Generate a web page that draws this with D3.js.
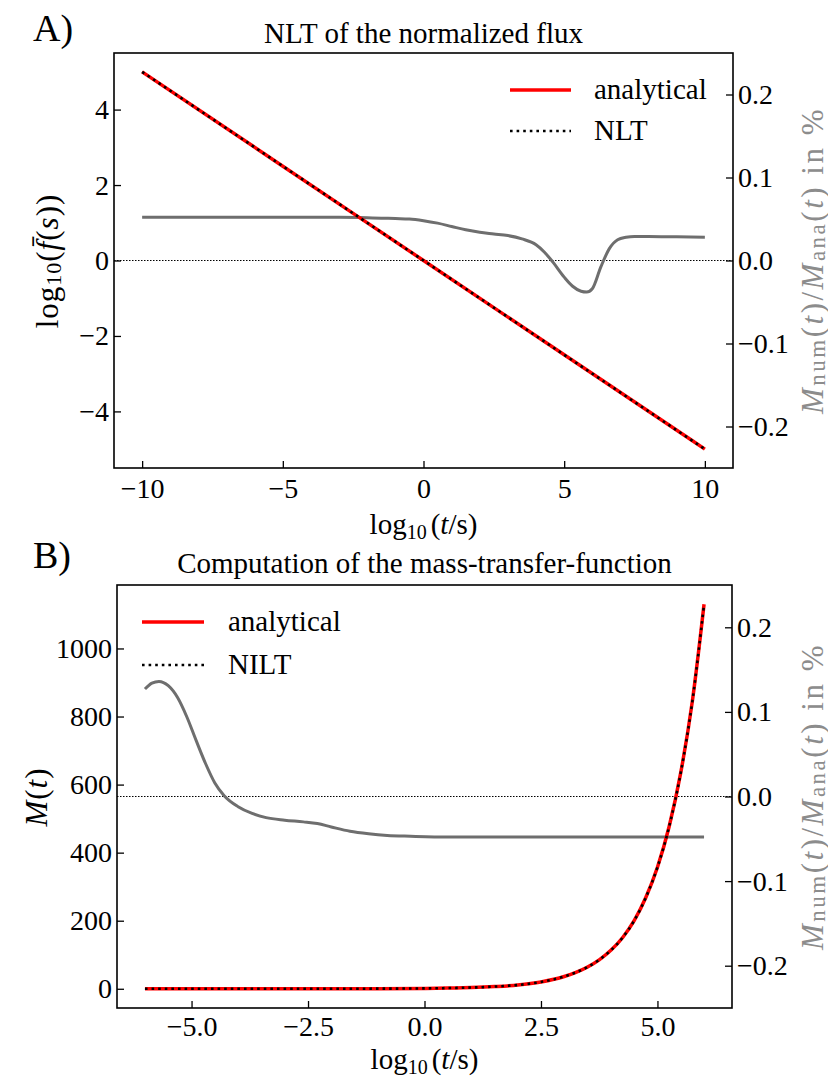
<!DOCTYPE html>
<html><head><meta charset="utf-8">
<script src="https://cdn.jsdelivr.net/npm/d3@7"></script>
<style>body{margin:0;background:#fff}svg text{font-family:"Liberation Serif","Times New Roman",serif;}</style>
</head><body>
<svg id="c" width="828" height="1078"></svg>
<script>
// ---------- Panel A data ----------
const xTicksA = [-10, -5, 0, 5, 10];
const yTicksA = [-4, -2, 0, 2, 4];
const rightTicks = [-0.2, -0.1, 0.0, 0.1, 0.2];
const fluxX = [-10, -5, 0, 5, 10];
const fluxY = [5, 2.5, 0, -2.5, -5];
const residAX = [-10,-8,-6,-4,-3,-2,-1.5,-1,-0.5,0,0.5,1,1.5,2,2.5,3,3.5,4,4.3,4.6,5,5.3,5.6,5.8,6,6.3,6.6,6.9,7.2,7.5,8,9,10];
const residAY = [0.052,0.052,0.052,0.052,0.052,0.0515,0.051,0.0505,0.05,0.048,0.045,0.041,0.037,0.034,0.032,0.030,0.026,0.019,0.010,-0.002,-0.020,-0.031,-0.037,-0.038,-0.034,-0.008,0.014,0.025,0.028,0.029,0.029,0.0285,0.028];

// ---------- Panel B data ----------
const xTicksB = [-5, -2.5, 0, 2.5, 5];
const yTicksB = [0, 200, 400, 600, 800, 1000];
const massX = [-6,-5,-4,-3,-2,-1,0,0.5,1,1.5,2,2.5,3,3.25,3.5,3.75,4,4.25,4.5,4.75,5,5.25,5.5,5.75,6];
const massY = [0.001,0.004,0.011,0.036,0.11,0.36,1.1,2.0,3.6,6.4,11,20,36,48,64,85,113,150,200,268,357,476,635,846,1130];
const residBX = [-6,-5.85,-5.7,-5.5,-5.3,-5.1,-4.9,-4.7,-4.5,-4.3,-4.0,-3.7,-3.4,-3.0,-2.6,-2.3,-2.0,-1.6,-1.2,-0.8,-0.3,0.5,2,4,6];
const residBY = [0.127,0.134,0.136,0.131,0.117,0.094,0.066,0.039,0.016,0.001,-0.012,-0.020,-0.025,-0.028,-0.030,-0.032,-0.036,-0.041,-0.044,-0.046,-0.047,-0.048,-0.048,-0.048,-0.048];

const svg = d3.select("#c");
const FS = 29;
const TFS = 28;
const GRAY = "#6e6e6e";
const LABELGRAY = "#8c8c8c";

function panel(o) {
  const g = svg.append("g");
  const x = d3.scaleLinear().domain(o.xDom).range([o.x0, o.x1]);
  const y = d3.scaleLinear().domain(o.yDom).range([o.y1, o.y0]);
  const yr = d3.scaleLinear().domain([-0.25, 0.25]).range([o.y1, o.y0]);

  // zero dotted line (right axis)
  g.append("line").attr("x1", o.x0).attr("x2", o.x1)
    .attr("y1", yr(0)).attr("y2", yr(0))
    .attr("stroke", "#000").attr("stroke-width", 1.2).attr("stroke-dasharray", "1.5,1.5");

  // residual
  const lr = d3.line().x((d, i) => x(o.rX[i])).y(d => yr(d)).curve(d3.curveMonotoneX);
  g.append("path").attr("d", lr(o.rY)).attr("fill", "none")
    .attr("stroke", GRAY).attr("stroke-width", 3);

  // analytical and numerical
  const lm = d3.line().x((d, i) => x(o.mX[i])).y(d => y(d)).curve(d3.curveMonotoneX);
  g.append("path").attr("d", lm(o.mY)).attr("fill", "none")
    .attr("stroke", "#ff0000").attr("stroke-width", 3.5);
  g.append("path").attr("d", lm(o.mY)).attr("fill", "none")
    .attr("stroke", "#000").attr("stroke-width", 2.6).attr("stroke-dasharray", "2.6,4");

  // axes
  const ax = g.append("g").attr("transform", `translate(0,${o.y1})`)
    .call(d3.axisBottom(x).tickValues(o.xTicks).tickFormat(o.xFmt).tickSize(-7).tickPadding(o.xPad));
  const ay = g.append("g").attr("transform", `translate(${o.x0},0)`)
    .call(d3.axisLeft(y).tickValues(o.yTicks).tickFormat(d3.format("d")).tickSize(-7).tickPadding(5));
  const ar = g.append("g").attr("transform", `translate(${o.x1},0)`)
    .call(d3.axisRight(yr).tickValues(rightTicks).tickFormat(d3.format(".1f")).tickSize(-7).tickPadding(5));
  [ax, ay, ar].forEach(a => {
    a.select(".domain").remove();
    a.selectAll(".tick line").attr("stroke", "#000").attr("stroke-width", 1.3);
    a.selectAll(".tick text").attr("font-size", TFS).attr("fill", "#000")
      .style("font-family", '"Liberation Serif", serif');
  });

  // frame
  g.append("rect").attr("x", o.x0).attr("y", o.y0)
    .attr("width", o.x1 - o.x0).attr("height", o.y1 - o.y0)
    .attr("fill", "none").attr("stroke", "#000").attr("stroke-width", 1.6);

  // legend
  const L = o.leg;
  g.append("line").attr("x1", L.lx0).attr("x2", L.lx1).attr("y1", L.y1).attr("y2", L.y1)
    .attr("stroke", "#ff0000").attr("stroke-width", 3.5);
  g.append("line").attr("x1", L.lx0).attr("x2", L.lx1).attr("y1", L.y2).attr("y2", L.y2)
    .attr("stroke", "#000").attr("stroke-width", 2.6).attr("stroke-dasharray", "2.6,4");
  g.append("text").attr("x", L.tx).attr("y", L.y1 + 9).attr("font-size", FS).text("analytical");
  g.append("text").attr("x", L.tx).attr("y", L.y2 + 9).attr("font-size", FS).text(L.num);

  // title & panel letter
  g.append("text").attr("x", (o.x0 + o.x1) / 2).attr("y", o.titleY)
    .attr("text-anchor", "middle").attr("font-size", FS).text(o.title);
  g.append("text").attr("x", 33).attr("y", o.letterY)
    .attr("font-size", 38).text(o.letter);

  // x label
  const xl = g.append("text").attr("x", (o.x0 + o.x1) / 2).attr("y", o.xlabY)
    .attr("text-anchor", "middle").attr("font-size", FS);
  xl.append("tspan").text("log");
  xl.append("tspan").attr("font-size", 20).attr("dy", 5).text("10");
  xl.append("tspan").attr("dy", -5).attr("dx", 4).text("(");
  xl.append("tspan").attr("font-style", "italic").text("t");
  xl.append("tspan").text("/s)");

  // right label
  const rl = g.append("text")
    .attr("transform", `translate(812,${(o.y0 + o.y1) / 2}) rotate(-90)`)
    .attr("text-anchor", "middle").attr("dominant-baseline", "central")
    .attr("font-size", 31).attr("letter-spacing", 2.5).attr("fill", LABELGRAY);
  rl.append("tspan").attr("font-style", "italic").text("M");
  rl.append("tspan").attr("font-size", 23).attr("dy", 5).text("num");
  rl.append("tspan").attr("dy", -5).text("(");
  rl.append("tspan").attr("font-style", "italic").text("t");
  rl.append("tspan").text(")/");
  rl.append("tspan").attr("font-style", "italic").text("M");
  rl.append("tspan").attr("font-size", 23).attr("dy", 5).text("ana");
  rl.append("tspan").attr("dy", -5).text("(");
  rl.append("tspan").attr("font-style", "italic").text("t");
  rl.append("tspan").text(") in %");

  return g;
}

panel({
  xDom: [-11, 11], yDom: [-5.5, 5.5], x0: 114, x1: 733, y0: 53, y1: 468,
  xTicks: xTicksA, yTicks: yTicksA, xFmt: d3.format("d"), xPad: 10,
  mX: fluxX, mY: fluxY, rX: residAX, rY: residAY,
  leg: { lx0: 510, lx1: 571, tx: 594, y1: 90, y2: 131, num: "NLT" },
  title: "NLT of the normalized flux", titleY: 43, letter: "A)", letterY: 41, xlabY: 534
});
panel({
  xDom: [-6.6, 6.6], yDom: [-56.5, 1186.5], x0: 117, x1: 732, y0: 585, y1: 1008,
  xTicks: xTicksB, yTicks: yTicksB, xFmt: d3.format(".1f"), xPad: 8,
  mX: massX, mY: massY, rX: residBX, rY: residBY,
  leg: { lx0: 142, lx1: 204, tx: 228, y1: 622, y2: 665, num: "NILT" },
  title: "Computation of the mass-transfer-function", titleY: 573, letter: "B)", letterY: 568, xlabY: 1069
});

// left y labels
const la = svg.append("text").attr("transform", "translate(47,261) rotate(-90)")
  .attr("text-anchor", "middle").attr("dominant-baseline", "central")
  .attr("font-size", 31).attr("letter-spacing", 1);
la.append("tspan").text("log");
la.append("tspan").attr("font-size", 22).attr("dy", 6).text("10");
la.append("tspan").attr("dy", -6).text("(");
la.append("tspan").attr("font-style", "italic").text("f\u0304");
la.append("tspan").text("(");
la.append("tspan").attr("font-style", "italic").text("s");
la.append("tspan").text("))");

const lb = svg.append("text").attr("transform", "translate(36,797) rotate(-90)")
  .attr("text-anchor", "middle").attr("dominant-baseline", "central")
  .attr("font-size", 31).attr("letter-spacing", 1);
lb.append("tspan").attr("font-style", "italic").text("M");
lb.append("tspan").text("(");
lb.append("tspan").attr("font-style", "italic").text("t");
lb.append("tspan").text(")");
</script>
</body></html>
